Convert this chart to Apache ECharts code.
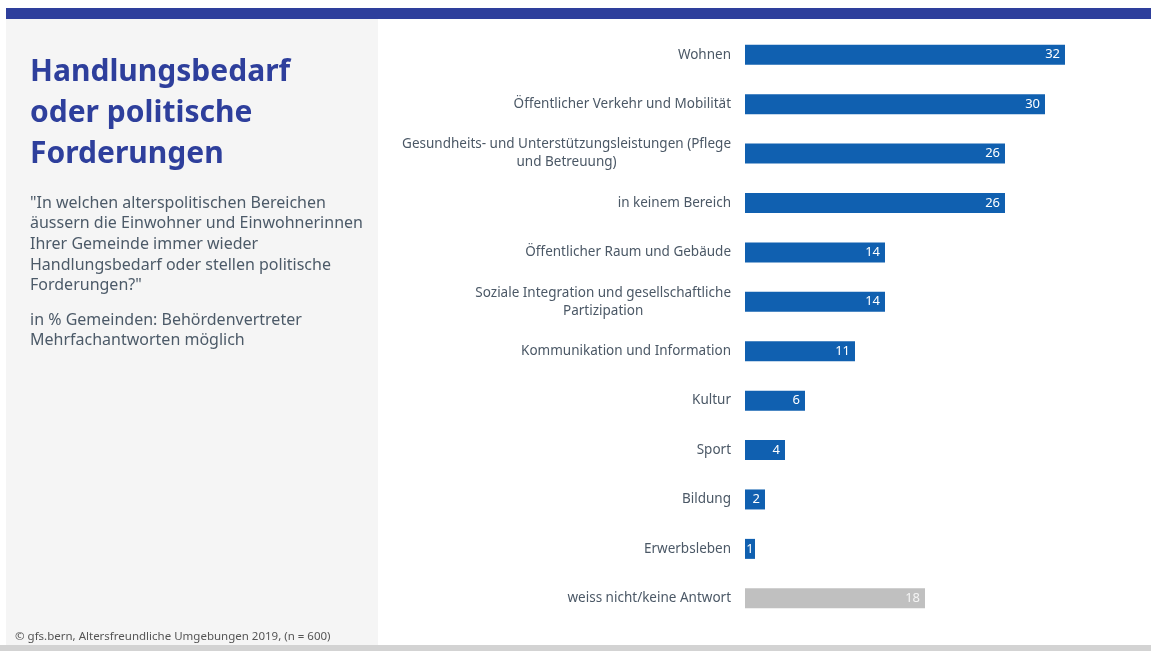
<!DOCTYPE html>
<html>
<head>
<meta charset="utf-8">
<script src="https://cdn.jsdelivr.net/npm/echarts@6/dist/echarts.min.js"></script>
<style>
  html, body { margin: 0; padding: 0; background: #ffffff; }
  #chart { width: 1151px; height: 651px; }
</style>
</head>
<body>
<div id="chart"></div>
<script>
// Survey categories (top to bottom) and their shares in % of municipalities
const categories = [
  'Wohnen',
  'Öffentlicher Verkehr und Mobilität',
  'Gesundheits- und Unterstützungsleistungen (Pflege\nund Betreuung)',
  'in keinem Bereich',
  'Öffentlicher Raum und Gebäude',
  'Soziale Integration und gesellschaftliche\nPartizipation',
  'Kommunikation und Information',
  'Kultur',
  'Sport',
  'Bildung',
  'Erwerbsleben',
  'weiss nicht/keine Antwort'
];
const values = [32, 30, 26, 26, 14, 14, 11, 6, 4, 2, 1, 18];
// The last category is a non-answer and is shown in grey
const neutralCategories = ['weiss nicht/keine Antwort'];

const titleLines = ['Handlungsbedarf', 'oder politische', 'Forderungen'];
const questionLines = [
  '"In welchen alterspolitischen Bereichen',
  'äussern die Einwohner und Einwohnerinnen',
  'Ihrer Gemeinde immer wieder',
  'Handlungsbedarf oder stellen politische',
  'Forderungen?"'
];
const noteLines = ['in % Gemeinden: Behördenvertreter', 'Mehrfachantworten möglich'];
const sourceText = '© gfs.bern, Altersfreundliche Umgebungen 2019, (n = 600)';

const FONT = '"Noto Sans", sans-serif';
const BLUE = '#1060b0';
const GREY = '#c0c0c0';

const chart = echarts.init(document.getElementById('chart'), null, { renderer: 'canvas' });

const barData = categories.map((c, i) => {
  const neutral = neutralCategories.includes(c);
  const tiny = values[i] < 2;   // very short bars get their number centred
  return {
    value: values[i],
    itemStyle: { color: neutral ? GREY : BLUE },
    label: {
      color: neutral ? '#f4f4f4' : '#ffffff',
      position: tiny ? 'inside' : 'insideRight'
    }
  };
});

// Each label line is centred inside its block, the block sits right-aligned
function categoryLabel(text) {
  return text.split('\n').map(l => '{c|' + l + '}').join('\n');
}

chart.setOption({
  backgroundColor: '#ffffff',
  animation: false,
  graphic: [
    // top band
    { type: 'rect', shape: { x: 6, y: 8, width: 1145, height: 11 }, style: { fill: '#2e3f9c' }, silent: true },
    // side panel
    { type: 'rect', shape: { x: 6, y: 19, width: 372, height: 626 }, style: { fill: '#f5f5f5' }, silent: true },
    // bottom band
    { type: 'rect', shape: { x: 0, y: 645, width: 1151, height: 6 }, style: { fill: '#d3d3d3' }, silent: true },
    {
      type: 'text', left: 30, top: 52,
      style: {
        text: titleLines.join('\n'), fill: '#2e3f9c',
        font: 'bold 30px ' + FONT, lineHeight: 41
      }
    },
    {
      type: 'text', left: 30, top: 193,
      style: {
        text: questionLines.join('\n'), fill: '#4c5a68',
        font: '16px ' + FONT, lineHeight: 20.6
      }
    },
    {
      type: 'text', left: 30, top: 310,
      style: {
        text: noteLines.join('\n'), fill: '#4c5a68',
        font: '16px ' + FONT, lineHeight: 20.6
      }
    },
    {
      type: 'text', left: 15, top: 631,
      style: { text: sourceText, fill: '#555555', font: '11.5px ' + FONT }
    }
  ],
  grid: { left: 745, top: 30, width: 400, height: 593, containLabel: false },
  xAxis: {
    type: 'value', min: 0, max: 40, show: false
  },
  yAxis: {
    type: 'category',
    data: categories,
    inverse: true,
    axisLine: { show: false },
    axisTick: { show: false },
    splitLine: { show: false },
    axisLabel: {
      margin: 14,
      formatter: categoryLabel,
      rich: {
        c: {
          align: 'center',
          fontFamily: FONT,
          fontSize: 13.5,
          color: '#4b5866',
          lineHeight: 18
        }
      }
    }
  },
  series: [{
    type: 'bar',
    data: barData,
    barWidth: 20,
    label: {
      show: true,
      position: 'insideRight',
      distance: 5,
      fontFamily: FONT,
      fontSize: 13
    }
  }]
});
</script>
</body>
</html>
